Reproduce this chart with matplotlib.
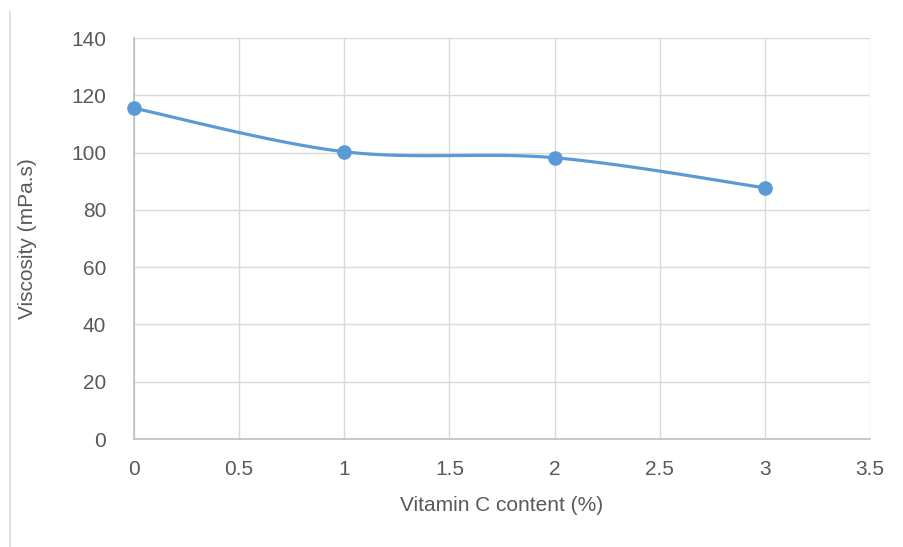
import numpy as np
import matplotlib
matplotlib.use("Agg")
import matplotlib.pyplot as plt
from matplotlib.lines import Line2D
from matplotlib import font_manager

vitamin_c = [0, 1, 2, 3]
viscosity = [115.5, 100.3, 98.2, 87.7]
x_ticks = [0, 0.5, 1, 1.5, 2, 2.5, 3, 3.5]
y_ticks = [0, 20, 40, 60, 80, 100, 120, 140]

names = {f.name for f in font_manager.fontManager.ttflist}
fam = ["Liberation Sans Narrow", "DejaVu Sans"] if "Liberation Sans Narrow" in names else ["Liberation Sans", "DejaVu Sans"]
plt.rcParams['font.family'] = fam

def excel_smooth(xs, ys, n=40):
    xs = np.asarray(xs, float); ys = np.asarray(ys, float)
    P = np.column_stack([xs, ys])
    out = []
    for i in range(len(P) - 1):
        p0 = P[i - 1] if i > 0 else P[i]
        p1 = P[i]; p2 = P[i + 1]
        p3 = P[i + 2] if i + 2 < len(P) else P[i + 1]
        c1 = p1 + (p2 - p0) / 6.0
        c2 = p2 - (p3 - p1) / 6.0
        t = np.linspace(0, 1, n)[:, None]
        seg = (1 - t) ** 3 * p1 + 3 * (1 - t) ** 2 * t * c1 + 3 * (1 - t) * t ** 2 * c2 + t ** 3 * p2
        out.append(seg if i == 0 else seg[1:])
    s = np.vstack(out)
    return s[:, 0], s[:, 1]

fig = plt.figure(figsize=(9.04, 5.47), dpi=100)
ax = fig.add_axes([0.1482, 0.1974, 0.8142, 0.7331])

text_col = "#595959"
grid_col = "#d9d9d9"
line_col = "#5b9bd5"

sx, sy = excel_smooth(vitamin_c, viscosity)
ax.plot(sx, sy, color=line_col, lw=2.3, solid_capstyle="round", zorder=3)
ax.plot(vitamin_c, viscosity, 'o', color=line_col, ms=9.5, zorder=4, clip_on=False)

ax.set_xlim(0, 3.5)
ax.set_ylim(0, 140)
ax.set_xticks(x_ticks)
ax.set_xticklabels([f"{v:g}" for v in x_ticks])
ax.set_yticks(y_ticks)
ax.grid(True, color=grid_col, lw=1.0)
ax.set_axisbelow(True)
for s in ["top", "right"]:
    ax.spines[s].set_visible(False)
for s in ["left", "bottom"]:
    ax.spines[s].set_color("#bfbfbf")
    ax.spines[s].set_linewidth(1.2)
ax.tick_params(length=0, labelsize=15, colors=text_col)
ax.tick_params(axis='y', pad=20)
ax.tick_params(axis='x', pad=15)

ax.set_xlabel("Vitamin C content (%)", fontsize=15, color=text_col)
ax.set_ylabel("Viscosity (mPa.s)", fontsize=15, color=text_col)
ax.xaxis.set_label_coords(0.5, -0.1646)
ax.xaxis.label.set_va("center")
ax.yaxis.set_label_coords(-0.144, 0.5)
ax.yaxis.label.set_va("center")

fig.add_artist(Line2D([10/904, 10/904], [0, 1 - 12/547], transform=fig.transFigure,
                      color=grid_col, lw=1.2))

fig.savefig("out.png", dpi=100)
